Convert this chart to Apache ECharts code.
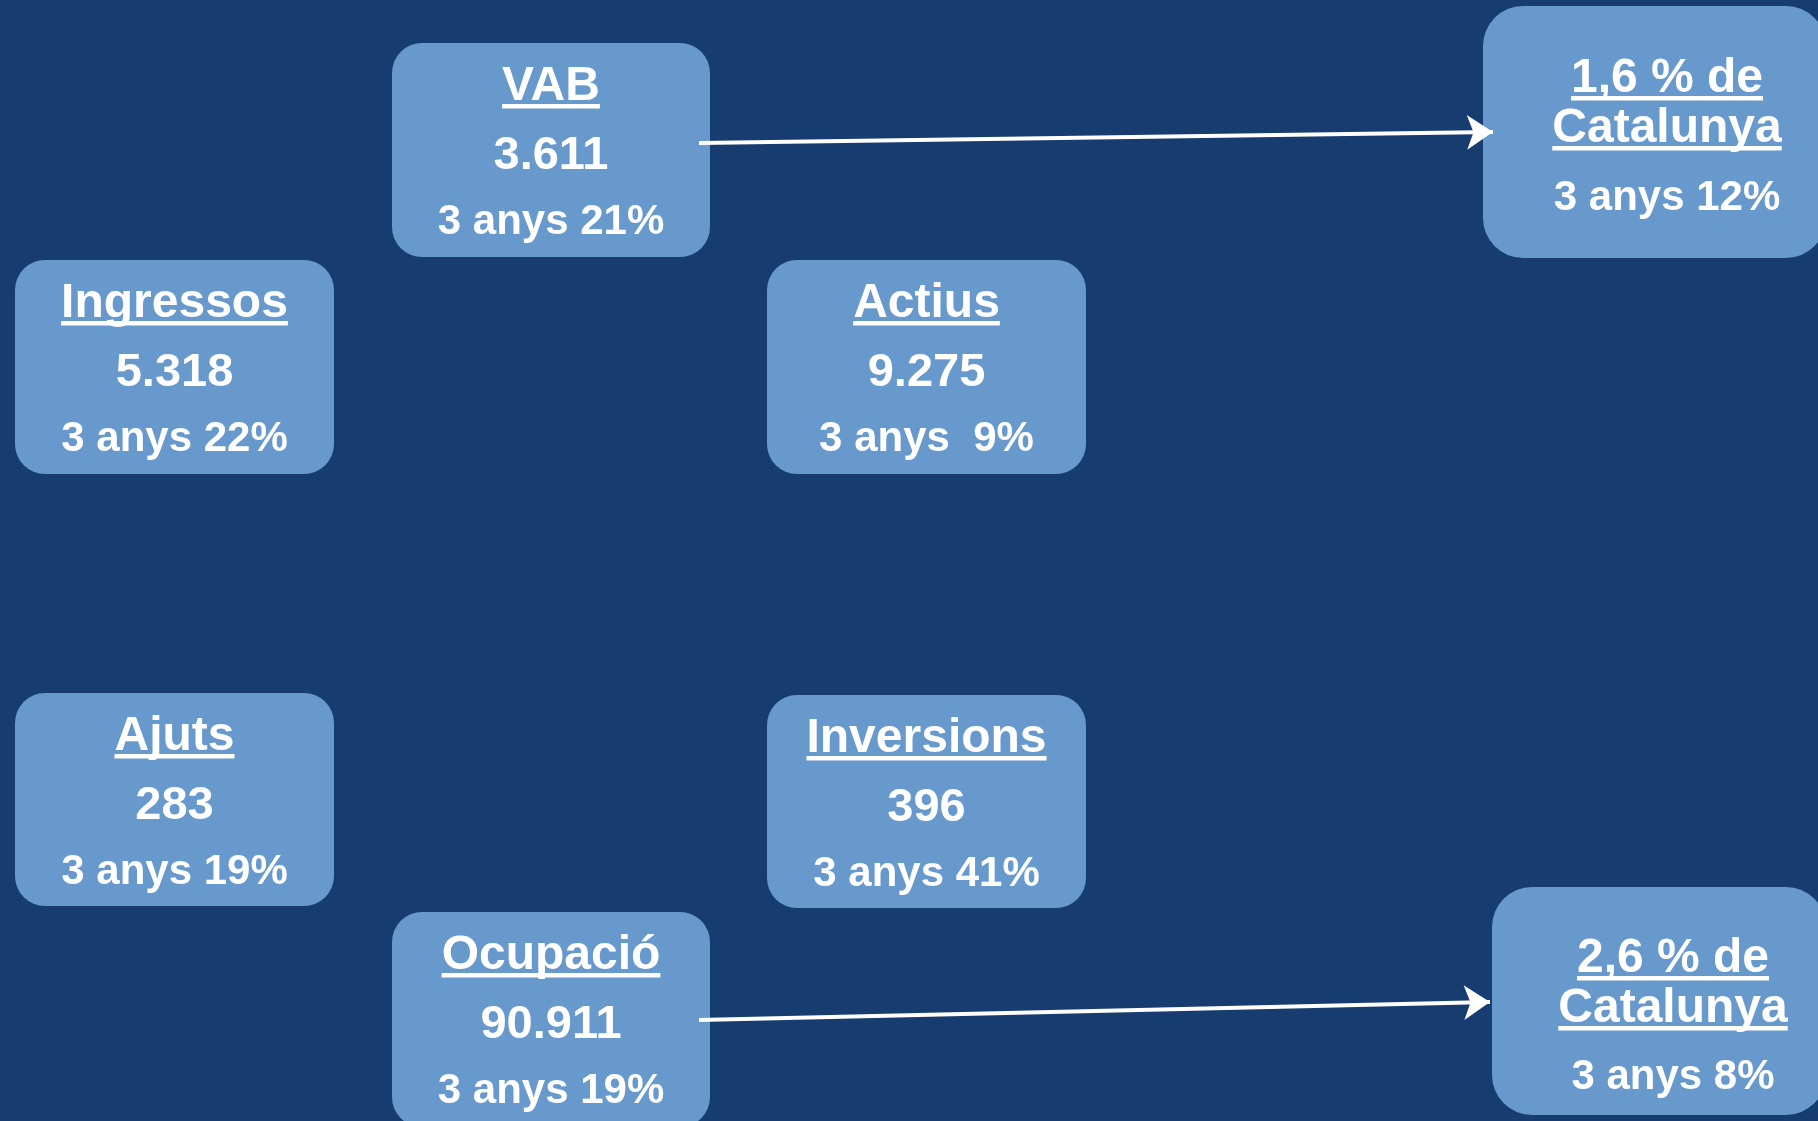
<!DOCTYPE html>
<html>
<head>
<meta charset="utf-8">
<script src="https://cdn.jsdelivr.net/npm/echarts@6/dist/echarts.min.js"></script>
<style>
html,body{margin:0;padding:0;background:#173D70;}
#chart{width:1818px;height:1121px;}
</style>
</head>
<body>
<div id="chart"></div>
<script>
// ---- Data ----
const boxTitles  = ['VAB', 'Ingressos', 'Actius', 'Ajuts', 'Inversions', 'Ocupació'];
const boxValues  = ['3.611', '5.318', '9.275', '283', '396', '90.911'];
const boxChanges = ['3 anys 21%', '3 anys 22%', '3 anys  9%', '3 anys 19%', '3 anys 41%', '3 anys 19%'];
const shareTitles  = [['1,6 % de', 'Catalunya'], ['2,6 % de', 'Catalunya']];
const shareChanges = ['3 anys 12%', '3 anys 8%'];

// ---- Layout (positions in page pixels, used through the hidden axes) ----
const boxRects = [
  [392, 43, 710, 257],
  [15, 260, 334, 474],
  [767, 260, 1086, 474],
  [15, 693, 334, 906],
  [767, 695, 1086, 908],
  [392, 912, 710, 1127]
];
const shareRects = [
  [1483, 6, 1826, 258, 1667],
  [1492, 887, 1826, 1115, 1673]
];
const arrowPaths = [
  [[699, 143], [1493, 132]],
  [[699, 1020], [1490, 1002]]
];

// ---- Styles ----
const BG = '#173D70';
const BOX = '#6799CC';
const FONT = '"Liberation Sans", Arial, sans-serif';
const TITLE_SIZE = 48, VALUE_SIZE = 47, SUB_SIZE = 42;

const measureCtx = document.createElement('canvas').getContext('2d');
function textWidth(t, size) {
  measureCtx.font = 'bold ' + size + 'px ' + FONT;
  return measureCtx.measureText(t).width;
}
function textEl(t, x, baseline, size) {
  return {
    type: 'text',
    style: {
      text: t, x: x, y: baseline - 0.3465 * size + 5,
      font: 'bold ' + size + 'px ' + FONT,
      fill: '#ffffff', align: 'center', verticalAlign: 'middle'
    }
  };
}
function underline(t, x, baseline, size) {
  const w = textWidth(t, size);
  return {
    type: 'rect',
    shape: { x: x - w / 2, y: baseline + 6, width: w, height: 4.5 },
    style: { fill: '#ffffff' }
  };
}

const chart = echarts.init(document.getElementById('chart'), null, { renderer: 'canvas' });

chart.setOption({
  backgroundColor: BG,
  animation: false,
  grid: { left: 0, right: 0, top: 0, bottom: 0 },
  xAxis: { type: 'value', min: 0, max: 1818, show: false },
  yAxis: { type: 'value', min: 0, max: 1121, inverse: true, show: false },
  series: [
    {
      type: 'custom',
      clip: false,
      data: boxRects,
      renderItem: function (params, api) {
        const i = params.dataIndex;
        const p0 = api.coord([api.value(0), api.value(1)]);
        const p1 = api.coord([api.value(2), api.value(3)]);
        const cx = (p0[0] + p1[0]) / 2;
        const top = p0[1];
        return {
          type: 'group',
          children: [
            { type: 'rect', shape: { x: p0[0], y: p0[1], width: p1[0] - p0[0], height: p1[1] - p0[1], r: 30 }, style: { fill: BOX } },
            textEl(boxTitles[i], cx, top + 55, TITLE_SIZE),
            underline(boxTitles[i], cx, top + 55, TITLE_SIZE),
            textEl(boxValues[i], cx, top + 124, VALUE_SIZE),
            textEl(boxChanges[i], cx, top + 189, SUB_SIZE)
          ]
        };
      }
    },
    {
      type: 'custom',
      clip: false,
      data: shareRects,
      renderItem: function (params, api) {
        const i = params.dataIndex;
        const p0 = api.coord([api.value(0), api.value(1)]);
        const p1 = api.coord([api.value(2), api.value(3)]);
        const cx = api.coord([api.value(4), 0])[0];
        const top = p0[1];
        const h = p1[1] - p0[1];
        const b1 = top + (i === 0 ? 84 : 83);
        const b2 = top + (i === 0 ? 134 : 133);
        const b3 = top + (i === 0 ? 202 : 200);
        return {
          type: 'group',
          children: [
            { type: 'rect', shape: { x: p0[0], y: p0[1], width: p1[0] - p0[0], height: h, r: 40 }, style: { fill: BOX } },
            textEl(shareTitles[i][0], cx, b1, TITLE_SIZE),
            underline(shareTitles[i][0], cx, b1, TITLE_SIZE),
            textEl(shareTitles[i][1], cx, b2, TITLE_SIZE),
            underline(shareTitles[i][1], cx, b2, TITLE_SIZE),
            textEl(shareChanges[i], cx, b3, SUB_SIZE)
          ]
        };
      }
    },
    {
      type: 'lines',
      coordinateSystem: 'cartesian2d',
      polyline: false,
      symbol: ['none', 'arrow'],
      symbolSize: 26,
      lineStyle: { color: '#ffffff', width: 4, opacity: 1, curveness: 0 },
      data: arrowPaths.map(function (c) { return { coords: c }; }),
      z: 5
    }
  ]
});
</script>
</body>
</html>
